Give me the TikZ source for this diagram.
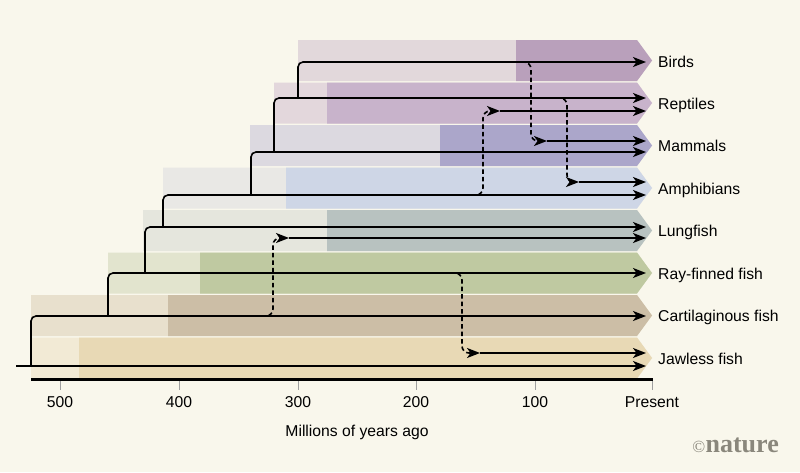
\documentclass[tikz,border=0pt]{standalone}
\usepackage{fontspec}
\setmainfont{Liberation Sans}
\newfontfamily\logofont{Liberation Serif}
\usetikzlibrary{arrows.meta}

\definecolor{paper}{HTML}{F9F7EC}
\definecolor{birdL}{HTML}{E2D8DB}
\definecolor{birdD}{HTML}{B9A0BB}
\definecolor{reptL}{HTML}{E3D7DC}
\definecolor{reptD}{HTML}{C8B3CB}
\definecolor{mammL}{HTML}{DCD9E0}
\definecolor{mammD}{HTML}{ABA6CA}
\definecolor{amphL}{HTML}{E9E8E5}
\definecolor{amphD}{HTML}{CED6E6}
\definecolor{lungL}{HTML}{E5E6DD}
\definecolor{lungD}{HTML}{B8C2C0}
\definecolor{rayL}{HTML}{E2E4CE}
\definecolor{rayD}{HTML}{BFC9A1}
\definecolor{cartL}{HTML}{E8E0CD}
\definecolor{cartD}{HTML}{CCBEA6}
\definecolor{jawL}{HTML}{F2EAD5}
\definecolor{jawD}{HTML}{E8D9B5}
\definecolor{logogray}{HTML}{8A877C}

\begin{document}
\begin{tikzpicture}[
        x=1pt, y=-1pt,
        tree/.style={line width=1.6pt, rounded corners=5pt, -{Stealth[length=13pt, width=10pt, inset=3.5pt]}},
        transfer/.style={line width=1.6pt, dash pattern=on 4.5pt off 3pt, rounded corners=7pt, -{Stealth[length=13pt, width=10pt, inset=3.5pt]}},
        species/.style={anchor=base west, inner sep=0pt, font=\fontsize{15.7}{18}\selectfont},
        axistick/.style={draw=gray!75, line width=0.9pt},
        ticklabel/.style={anchor=base, inner sep=0pt, font=\fontsize{15.7}{18}\selectfont}
    ]
        \useasboundingbox (0,0) rectangle (800,472);
        \fill[paper] (0,0) rectangle (800,472);

        % Faixas de cada grupo (topo / inicio claro / inicio escuro)
        \foreach \ty/\xa/\xb/\cl/\cd in {40/298/516/birdL/birdD, 82.5/274/327/reptL/reptD,
                125/250/440/mammL/mammD, 167.5/163/286/amphL/amphD, 210/143/327/lungL/lungD,
                252.5/108/200/rayL/rayD, 295/31/168/cartL/cartD, 337.5/31/79/jawL/jawD} {
            \fill[\cl] (\xa,\ty) -- (637,\ty) -- (652,\ty+20.5) -- (637,\ty+41) -- (\xa,\ty+41) -- cycle;
            \fill[\cd] (\xb,\ty) -- (637,\ty) -- (652,\ty+20.5) -- (637,\ty+41) -- (\xb,\ty+41) -- cycle;
        }

        % Nomes dos grupos
        \node[species] (birds) at (658,67) {Birds};
        \node[species] (reptiles) at (658,109) {Reptiles};
        \node[species] (mammals) at (658,151.5) {Mammals};
        \node[species] (amphibians) at (658,194) {Amphibians};
        \node[species] (lungfish) at (658,236.5) {Lungfish};
        \node[species] (rayfinned) at (658,279) {Ray-finned fish};
        \node[species] (cartilaginous) at (658,321.5) {Cartilaginous fish};
        \node[species] (jawless) at (658,364) {Jawless fish};

        % Pontas das setas
        \coordinate (birdsEnd) at (646,62);
        \coordinate (reptEnd) at (646,98);
        \coordinate (reptEndB) at (646,111);
        \coordinate (mammEndA) at (646,141);
        \coordinate (mammEnd) at (646,152);
        \coordinate (amphEndA) at (646,182);
        \coordinate (amphEnd) at (646,195);
        \coordinate (lungEnd) at (646,227);
        \coordinate (lungEndB) at (646,238);
        \coordinate (rayEnd) at (646,273);
        \coordinate (cartEnd) at (646,316);
        \coordinate (jawEndA) at (646,353);
        \coordinate (jawEnd) at (646,366);

        % Arvore principal
        \draw[tree] (298,98) |- (birdsEnd);
        \draw[tree] (274,152) |- (reptEnd);
        \draw[tree] (251,195) |- (mammEnd);
        \draw[tree] (163,227) |- (amphEnd);
        \draw[tree] (145,273) |- (lungEnd);
        \draw[tree] (108,316) |- (rayEnd);
        \draw[tree] (31,366) |- (cartEnd);
        \draw[tree] (16,366) -- (jawEnd);

        % Ligacoes tracejadas
        \coordinate (mammIn) at (547,141);
        \coordinate (amphIn) at (579,182);
        \coordinate (reptIn) at (500,111);
        \coordinate (lungIn) at (289,238);
        \coordinate (jawIn) at (480,353);
        \draw[transfer] (521,62) -- (531,62) -- (531,141) -- (mammIn);
        \draw[transfer] (556,98) -- (567,98) -- (567,182) -- (amphIn);
        \draw[transfer] (471,195) -- (483,195) -- (483,111) -- (reptIn);
        \draw[transfer] (261,316) -- (273,316) -- (273,238) -- (lungIn);
        \draw[transfer] (450,273) -- (462,273) -- (462,353) -- (jawIn);
        \draw[tree] (mammIn) -- (mammEndA);
        \draw[tree] (amphIn) -- (amphEndA);
        \draw[tree] (reptIn) -- (reptEndB);
        \draw[tree] (lungIn) -- (lungEndB);
        \draw[tree] (jawIn) -- (jawEndA);

        % Eixo do tempo
        \draw[axistick] (60,380) -- (60,390);
        \draw[axistick] (179,380) -- (179,390);
        \draw[axistick] (298,380) -- (298,390);
        \draw[axistick] (416,380) -- (416,390);
        \draw[axistick] (535,380) -- (535,390);
        \draw[axistick] (652,380) -- (652,390);
        \draw[line width=2.2pt] (31,379.5) -- (653,379.5);
        \node[ticklabel] (t500) at (60,407.5) {500};
        \node[ticklabel] (t400) at (179,407.5) {400};
        \node[ticklabel] (t300) at (298,407.5) {300};
        \node[ticklabel] (t200) at (416,407.5) {200};
        \node[ticklabel] (t100) at (535,407.5) {100};
        \node[ticklabel] (t0) at (652,407.5) {Present};
        \node[ticklabel] (axis) at (357,436.5) {Millions of years ago};

        % Logotipo
        \node[anchor=base east, inner sep=0pt, text=logogray, font=\logofont\bfseries\fontsize{26}{28}\selectfont] (logo) at (779,452) {nature};
        \node[anchor=base east, inner sep=0pt, text=logogray, font=\logofont\fontsize{17}{18}\selectfont] (copy) at (logo.base west) {\textcopyright};
    \end{tikzpicture}
\end{document}
